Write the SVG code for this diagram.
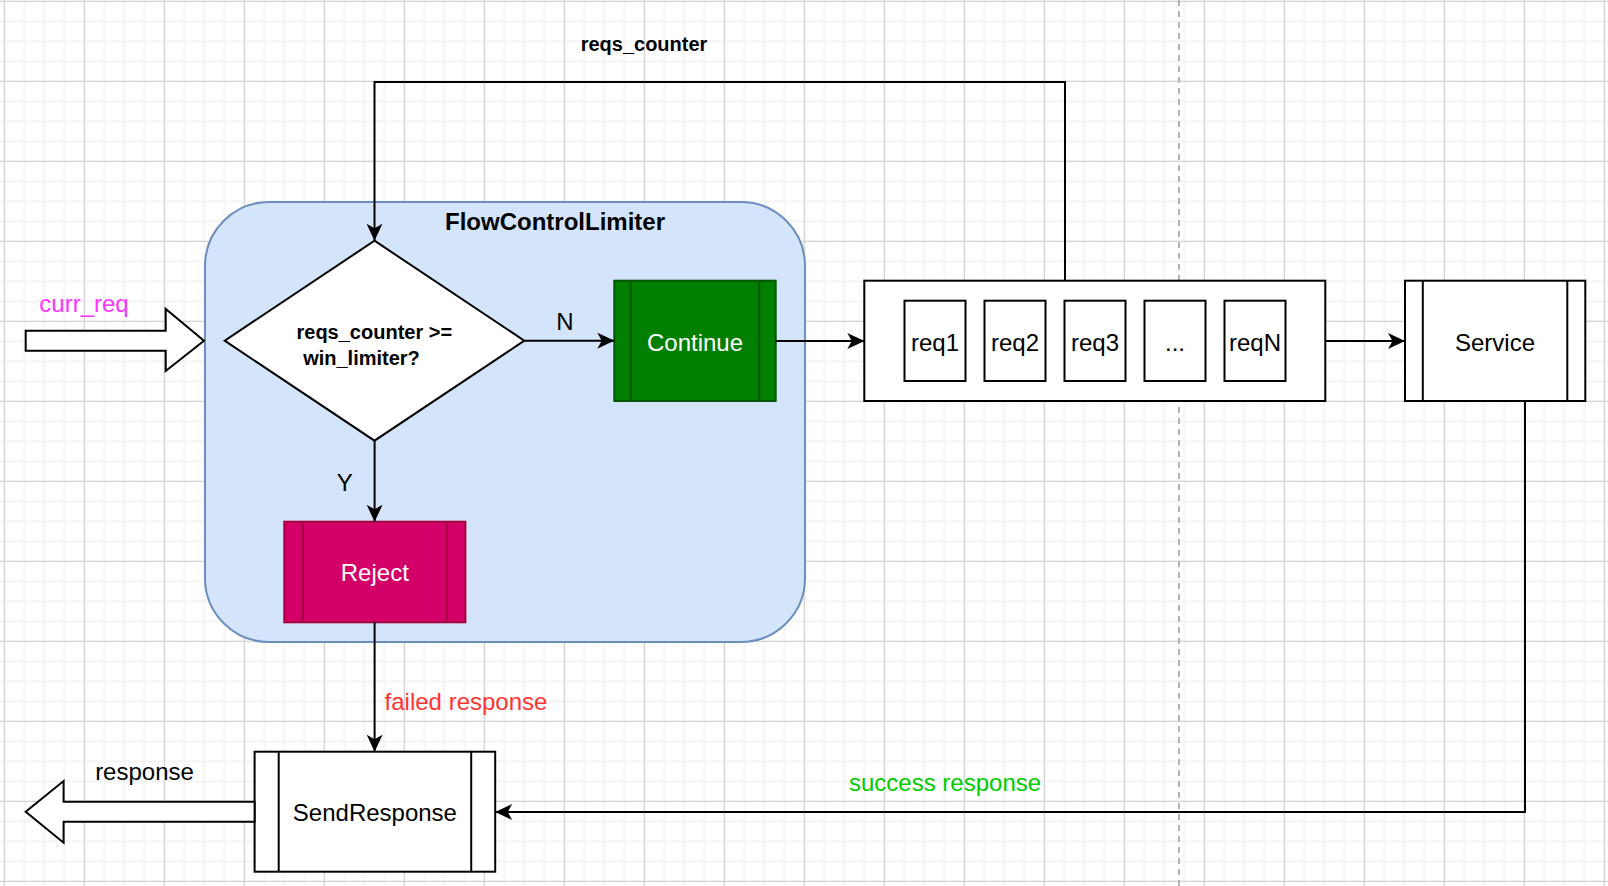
<svg xmlns="http://www.w3.org/2000/svg" width="1608" height="886" viewBox="0 0 1608 886">
<defs>
<pattern id="gMinor" width="20" height="20" patternUnits="userSpaceOnUse" x="3.55" y="0.55">
<rect x="0" y="0" width="1.5" height="20" fill="#f1f1f1"/>
<rect x="0" y="0" width="20" height="1.5" fill="#f1f1f1"/>
</pattern>
<pattern id="gMajor" width="80" height="80" patternUnits="userSpaceOnUse" x="3.8" y="0.8">
<rect x="0" y="0" width="1" height="80" fill="#cdcdcd"/>
<rect x="0" y="0" width="80" height="1" fill="#cdcdcd"/>
</pattern>
<marker id="arr" viewBox="0 0 17 16" refX="17" refY="8" markerWidth="17" markerHeight="16" markerUnits="userSpaceOnUse" orient="auto">
<path d="M0,0 L17,8 L0,16 L4.5,8 Z" fill="#000"/>
</marker>
</defs>
<style>
.t{font-family:"Liberation Sans",Arial,Helvetica,sans-serif;font-size:24px;text-anchor:middle;fill:#000}
.b{font-weight:bold}
.w{fill:#fff}
.box{fill:#fff;stroke:#000;stroke-width:2}
.edge{fill:none;stroke:#000;stroke-width:2;marker-end:url(#arr)}
.blk{fill:#fff;stroke:#000;stroke-width:2;stroke-linejoin:miter}
</style>
<rect width="1608" height="886" fill="#fff"/>
<rect width="1608" height="886" fill="url(#gMinor)"/>
<rect width="1608" height="886" fill="url(#gMajor)"/>
<line x1="1179" y1="0" x2="1179" y2="886" stroke="#b3b3b3" stroke-width="2" stroke-dasharray="6 5"/>

<g id="FlowControlLimiter">
<rect x="205" y="202" width="600" height="440" rx="64" ry="64" fill="#d4e5fb" stroke="#6c8ebf" stroke-width="2"/>
<text class="t b" x="555" y="230">FlowControlLimiter</text>
</g>

<g id="curr_req">
<polygon class="blk" points="25.7,330.7 165.7,330.7 165.7,309 204,340.7 165.7,371 165.7,350.7 25.7,350.7"/>
<text class="t" x="84" y="311.7" style="fill:#ff33ff">curr_req</text>
</g>

<g id="decision">
<polygon points="374.5,240.7 524.3,340.7 374.5,440.7 224.7,340.7" fill="#fff" stroke="#000" stroke-width="2"/>
<text class="t b" x="374.3" y="338.5" style="font-size:20px">reqs_counter &gt;=</text>
<text class="t b" x="361.5" y="365" style="font-size:20px">win_limiter?</text>
</g>

<g id="Continue">
<rect x="614.3" y="280.7" width="161.4" height="120.3" fill="#007f00" stroke="#005700" stroke-width="2"/>
<line x1="630.7" y1="280.7" x2="630.7" y2="401" stroke="#005700" stroke-width="2"/>
<line x1="759.3" y1="280.7" x2="759.3" y2="401" stroke="#005700" stroke-width="2"/>
<text class="t w" x="695" y="350.5">Continue</text>
</g>

<g id="Reject">
<rect x="284.3" y="521.7" width="181.1" height="100.6" fill="#d30067" stroke="#a50040" stroke-width="2"/>
<line x1="302.9" y1="521.7" x2="302.9" y2="622.3" stroke="#a50040" stroke-width="2"/>
<line x1="447.1" y1="521.7" x2="447.1" y2="622.3" stroke="#a50040" stroke-width="2"/>
<text class="t w" x="374.8" y="580.5">Reject</text>
</g>

<g id="Queue">
<rect class="box" x="864.3" y="280.7" width="461" height="120.3"/>
<rect class="box" x="904.5" y="300.7" width="61" height="80.3"/>
<rect class="box" x="984.5" y="300.7" width="61" height="80.3"/>
<rect class="box" x="1064.5" y="300.7" width="61" height="80.3"/>
<rect class="box" x="1144.5" y="300.7" width="61" height="80.3"/>
<rect class="box" x="1224.5" y="300.7" width="61" height="80.3"/>
<text class="t" x="935" y="350.5">req1</text>
<text class="t" x="1015" y="350.5">req2</text>
<text class="t" x="1095" y="350.5">req3</text>
<text class="t" x="1175" y="350.5">...</text>
<text class="t" x="1255" y="350.5">reqN</text>
</g>

<g id="Service">
<rect class="box" x="1405" y="280.7" width="180.3" height="120.3"/>
<line x1="1422.8" y1="280.7" x2="1422.8" y2="401" stroke="#000" stroke-width="2"/>
<line x1="1567.3" y1="280.7" x2="1567.3" y2="401" stroke="#000" stroke-width="2"/>
<text class="t" x="1495" y="350.5">Service</text>
</g>

<g id="SendResponse">
<rect class="box" x="254.6" y="751.7" width="240.6" height="120"/>
<line x1="278.7" y1="751.7" x2="278.7" y2="871.7" stroke="#000" stroke-width="2"/>
<line x1="471.2" y1="751.7" x2="471.2" y2="871.7" stroke="#000" stroke-width="2"/>
<text class="t" x="374.9" y="820.5">SendResponse</text>
</g>

<g id="response">
<polygon class="blk" points="254.6,801.7 63.6,801.7 63.6,781 25.7,811.7 63.6,842.7 63.6,821.7 254.6,821.7"/>
<text class="t" x="144.5" y="780">response</text>
</g>

<g id="connectors">
<path class="edge" d="M1065,280.7 V82 H374.5 V240.7"/>
<path class="edge" d="M524.3,340.7 H614.3"/>
<path class="edge" d="M775.7,341 H864.3"/>
<path class="edge" d="M1325.3,341 H1405"/>
<path class="edge" d="M374.6,440.7 V521.7"/>
<path class="edge" d="M374.6,622.3 V751.7"/>
<path class="edge" d="M1525,401 V812 H495.2"/>
<text class="t b" x="644" y="51" style="font-size:20px">reqs_counter</text>
<text class="t" x="565" y="330">N</text>
<text class="t" x="344.8" y="490.5">Y</text>
<text class="t" x="384.6" y="710" style="text-anchor:start;fill:#ff3333">failed response</text>
<text class="t" x="849" y="790.5" style="text-anchor:start;fill:#00cc00">success response</text>
</g>
</svg>
